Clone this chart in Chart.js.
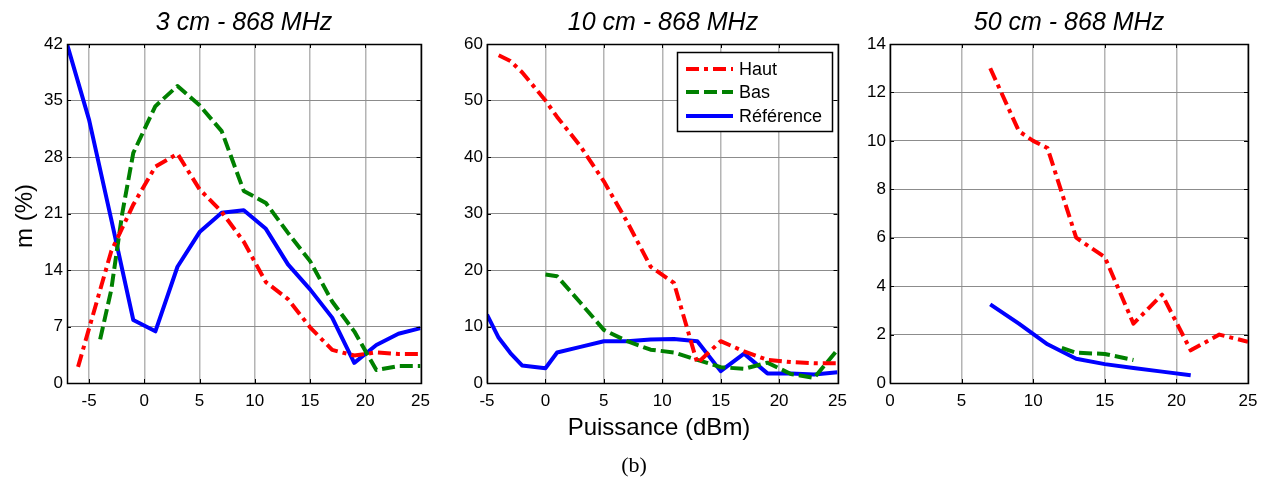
<!DOCTYPE html>
<html>
<head>
<meta charset="utf-8">
<script src="https://cdn.jsdelivr.net/npm/chart.js@4.4.1/dist/chart.umd.min.js"></script>
<style>
  html, body { margin:0; padding:0; background:#fff; }
  body { width:1269px; height:477px; position:relative; overflow:hidden; font-family:"Liberation Sans", Arial, sans-serif; }
  canvas { position:absolute; top:0; }
  .title { position:absolute; top:7px; font-style:italic; font-size:25px; text-align:center; width:360px; color:#000; }
  .lbl { position:absolute; font-size:24px; color:#000; white-space:nowrap; }
  .cap { position:absolute; font-family:"Liberation Serif", "Times New Roman", serif; font-size:22px; color:#000; }
</style>
</head>
<body>
<canvas id="c1" width="438" height="477" style="left:0px"></canvas>
<canvas id="c2" width="423" height="477" style="left:432px"></canvas>
<canvas id="c3" width="419" height="477" style="left:850px"></canvas>
<div class="title" style="left:64px">3 cm - 868 MHz</div>
<div class="title" style="left:483px">10 cm - 868 MHz</div>
<div class="title" style="left:889px">50 cm - 868 MHz</div>
<div class="lbl" style="left:24px; top:216px; transform:translate(-50%,-50%) rotate(-90deg);">m (%)</div>
<div class="lbl" style="left:659px; top:427px; transform:translate(-50%,-50%);">Puissance (dBm)</div>
<div class="cap" style="left:634px; top:465px; transform:translate(-50%,-50%);">(b)</div>
<script>
// ---------- DATA ----------
const seriesNames = ["Haut", "Bas", "Référence"];

// Panel 1 : 3 cm
const p1HautX = [-6, -3, -1, 1, 3, 5, 7, 9, 11, 13, 15, 17, 19, 21, 23, 25];
const p1HautY = [2.0, 16.3, 22.1, 26.8, 28.4, 24.0, 21.2, 17.5, 12.5, 10.4, 6.9, 4.1, 3.4, 3.8, 3.6, 3.6];
const p1BasX  = [-4, -3, -2, -1, 1, 3, 5, 7, 9, 11, 13, 15, 17, 19, 21, 23, 25];
const p1BasY  = [5.4, 11.5, 21.0, 28.5, 34.3, 36.8, 34.4, 31.2, 23.8, 22.3, 18.6, 15.1, 10.1, 6.4, 1.6, 2.1, 2.1];
const p1RefX  = [-7, -5, -3, -1, 1, 3, 5, 7, 9, 11, 13, 15, 17, 19, 21, 23, 25];
const p1RefY  = [42, 32.6, 20.3, 7.8, 6.4, 14.4, 18.7, 21.1, 21.4, 19.1, 14.7, 11.6, 8.1, 2.5, 4.7, 6.1, 6.8];
const p1XTicks = [-5, 0, 5, 10, 15, 20, 25];
const p1YTicks = [0, 7, 14, 21, 28, 35, 42];

// Panel 2 : 10 cm
const p2HautX = [-4, -3, -2, -1, 0, 1, 3, 5, 7, 9, 11, 13, 15, 17, 19, 21, 23, 25];
const p2HautY = [58, 57, 55, 52.5, 50, 47.1, 41.9, 35.7, 28.5, 20.6, 17.7, 3.5, 7.4, 5.6, 4.1, 3.7, 3.5, 3.5];
const p2BasX  = [0, 1, 3, 5, 7, 9, 11, 13, 15, 17, 19, 21, 23, 25];
const p2BasY  = [19.2, 18.9, 14.2, 9.4, 7.4, 5.9, 5.4, 4.1, 2.8, 2.5, 3.6, 1.6, 0.9, 5.9];
const p2RefX  = [-5, -4, -3, -2, 0, 1, 3, 5, 7, 9, 11, 13, 15, 17, 19, 21, 23, 25];
const p2RefY  = [12.1, 8.0, 5.3, 3.1, 2.6, 5.4, 6.4, 7.4, 7.4, 7.7, 7.8, 7.4, 2.1, 5.2, 1.7, 1.7, 1.5, 1.9];
const p2XTicks = [-5, 0, 5, 10, 15, 20, 25];
const p2YTicks = [0, 10, 20, 30, 40, 50, 60];

// Panel 3 : 50 cm
const p3HautX = [7, 9, 10, 11, 13, 15, 17, 19, 21, 23, 25];
const p3HautY = [13.0, 10.4, 10.0, 9.7, 6.0, 5.2, 2.45, 3.65, 1.35, 2.0, 1.7];
const p3BasX  = [12, 13, 15, 17];
const p3BasY  = [1.45, 1.25, 1.2, 0.95];
const p3RefX  = [7, 9, 11, 13, 15, 17, 19, 21];
const p3RefY  = [3.25, 2.45, 1.6, 1.0, 0.78, 0.62, 0.47, 0.32];
const p3XTicks = [0, 5, 10, 15, 20, 25];
const p3YTicks = [0, 2, 4, 6, 8, 10, 12, 14];

// ---------- STYLE ----------
const FONT = '"Liberation Sans", Arial, sans-serif';
const styles = [
  { borderColor: '#ff0000', borderWidth: 4, borderDash: [13, 5, 4, 5] },
  { borderColor: '#008000', borderWidth: 4, borderDash: [13, 5] },
  { borderColor: '#0000ff', borderWidth: 4, borderDash: [] }
];
const pts = (xs, ys) => xs.map((x, i) => ({ x: x, y: ys[i] }));

function makeDatasets(sets) {
  return sets.map((s, i) => Object.assign({
    label: seriesNames[i],
    data: pts(s[0], s[1]),
    showLine: true, pointRadius: 0, fill: false, tension: 0,
    borderCapStyle: 'butt', borderJoinStyle: 'round'
  }, styles[i]));
}

const boxPlugin = {
  id: 'box',
  afterDraw(chart) {
    const ctx = chart.ctx, a = chart.chartArea;
    const xs = chart.scales.x, ys = chart.scales.y;
    ctx.save();
    ctx.strokeStyle = '#000';
    ctx.lineWidth = 1.5;
    ctx.strokeRect(Math.round(a.left) + 0.5, Math.round(a.top) + 0.5, Math.round(a.right - a.left), Math.round(a.bottom - a.top));
    ctx.lineWidth = 1;
    const L = 4;
    xs.ticks.forEach(t => {
      const p = Math.round(xs.getPixelForValue(t.value)) + 0.5;
      ctx.beginPath();
      ctx.moveTo(p, a.bottom); ctx.lineTo(p, a.bottom - L);
      ctx.moveTo(p, a.top); ctx.lineTo(p, a.top + L);
      ctx.stroke();
    });
    ys.ticks.forEach(t => {
      const p = Math.round(ys.getPixelForValue(t.value)) + 0.5;
      ctx.beginPath();
      ctx.moveTo(a.left, p); ctx.lineTo(a.left + L, p);
      ctx.moveTo(a.right, p); ctx.lineTo(a.right - L, p);
      ctx.stroke();
    });
    ctx.restore();
  }
};

const legendPlugin = {
  id: 'legendBox',
  afterDraw(chart) {
    if (!chart.options.plugins.legendBox || !chart.options.plugins.legendBox.show) return;
    const ctx = chart.ctx, a = chart.chartArea;
    const w = 155, h = 79;
    const bx = Math.round(a.right - 6 - w), by = Math.round(a.top + 8);
    ctx.save();
    ctx.fillStyle = '#fff';
    ctx.fillRect(bx, by, w, h);
    ctx.strokeStyle = '#000';
    ctx.lineWidth = 1.5;
    ctx.strokeRect(bx + 0.5, by + 0.5, w, h);
    ctx.font = '18px ' + FONT;
    ctx.textBaseline = 'middle';
    ctx.fillStyle = '#000';
    const rows = [17, 40, 64];
    chart.data.datasets.forEach((ds, i) => {
      const yy = by + rows[i];
      ctx.beginPath();
      ctx.strokeStyle = ds.borderColor;
      ctx.lineWidth = ds.borderWidth;
      ctx.setLineDash(ds.borderDash || []);
      ctx.moveTo(bx + 9, yy); ctx.lineTo(bx + 56, yy);
      ctx.stroke();
      ctx.setLineDash([]);
      ctx.fillText(ds.label, bx + 62, yy + 1);
    });
    ctx.restore();
  }
};

function makeChart(id, sets, xMin, xMax, xTicks, yMin, yMax, yTicks, yWidth, rightPad, legend) {
  return new Chart(document.getElementById(id), {
    type: 'scatter',
    data: { datasets: makeDatasets(sets) },
    options: {
      responsive: false, animation: false, devicePixelRatio: 1,
      layout: { padding: { top: 44, bottom: 64, left: 0, right: rightPad } },
      plugins: { legend: { display: false }, tooltip: { enabled: false }, legendBox: { show: legend } },
      scales: {
        x: {
          type: 'linear', min: xMin, max: xMax,
          afterBuildTicks: s => { s.ticks = xTicks.map(v => ({ value: v })); },
          afterFit: s => { s.height = 30; },
          grid: { color: '#b4b4b4', lineWidth: 1.5, drawTicks: false },
          border: { display: false },
          ticks: { color: '#000', font: { family: FONT, size: 17 }, padding: 8, maxRotation: 0, autoSkip: false }
        },
        y: {
          type: 'linear', min: yMin, max: yMax,
          afterBuildTicks: s => { s.ticks = yTicks.map(v => ({ value: v })); },
          afterFit: s => { s.width = yWidth; },
          grid: { color: '#8c8c8c', lineWidth: 1, drawTicks: false },
          border: { display: false },
          ticks: { color: '#000', font: { family: FONT, size: 17 }, padding: 4, autoSkip: false }
        }
      }
    },
    plugins: [boxPlugin, legendPlugin]
  });
}

makeChart('c1', [[p1HautX, p1HautY], [p1BasX, p1BasY], [p1RefX, p1RefY]], -7, 25, p1XTicks, 0, 42, p1YTicks, 67, 0, false);
makeChart('c2', [[p2HautX, p2HautY], [p2BasX, p2BasY], [p2RefX, p2RefY]], -5, 25, p2XTicks, 0, 60, p2YTicks, 55, 0, true);
makeChart('c3', [[p3HautX, p3HautY], [p3BasX, p3BasY], [p3RefX, p3RefY]], 0, 25, p3XTicks, 0, 14, p3YTicks, 40, 21, false);
</script>
</body>
</html>
